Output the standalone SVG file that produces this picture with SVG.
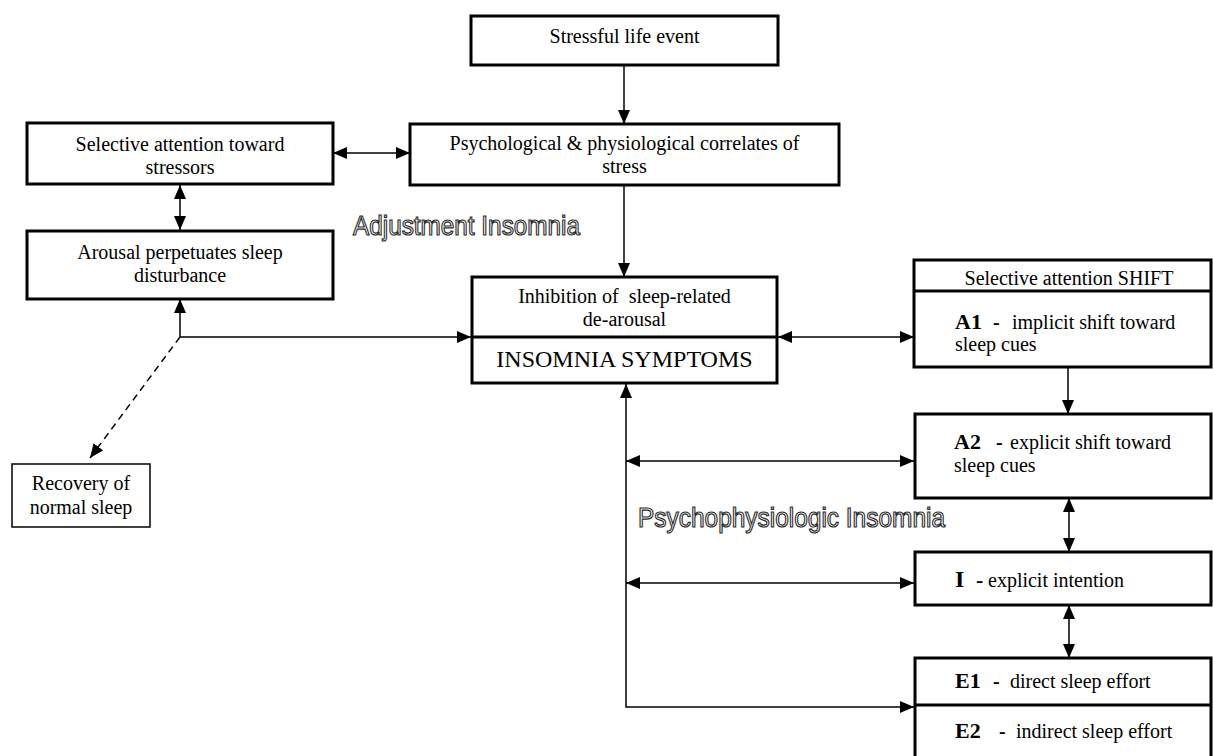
<svg xmlns="http://www.w3.org/2000/svg" width="1213" height="756" viewBox="0 0 1213 756">
<style>
.box{fill:#fff;stroke:#000;stroke-width:3}
.thin{fill:#fff;stroke:#000;stroke-width:1.5}
.t{font-family:"Liberation Serif","Times New Roman",serif;font-size:20px;fill:#000}
.c{text-anchor:middle}
.b{font-weight:bold;font-size:22px}
.ln{fill:none;stroke:#000;stroke-width:1.5}
.ol{font-family:"Liberation Sans",Arial,sans-serif;font-size:27px;fill:#fff;stroke:#2a2a2a;stroke-width:1.2}
.lbl{opacity:0.99}
</style>
<defs>
<marker id="ah" viewBox="0 0 14 12" refX="14" refY="6" markerWidth="14" markerHeight="12" markerUnits="userSpaceOnUse" orient="auto-start-reverse">
<path d="M0,0 L14,6 L0,12 Z" fill="#000"/>
</marker>
</defs>
<rect width="1213" height="756" fill="#fff"/>

<g id="connectors">
<line class="ln" x1="624" y1="65" x2="624" y2="124" marker-end="url(#ah)"/>
<line class="ln" x1="624" y1="185" x2="624" y2="277" marker-end="url(#ah)"/>
<line class="ln" x1="333" y1="153" x2="410" y2="153" marker-start="url(#ah)" marker-end="url(#ah)"/>
<line class="ln" x1="180" y1="185" x2="180" y2="230" marker-start="url(#ah)" marker-end="url(#ah)"/>
<polyline class="ln" points="180,299 180,337 471,337" marker-start="url(#ah)" marker-end="url(#ah)"/>
<line class="ln" x1="180" y1="337" x2="90" y2="458" stroke-dasharray="7,5" marker-end="url(#ah)"/>
<line class="ln" x1="778" y1="337" x2="914" y2="337" marker-start="url(#ah)" marker-end="url(#ah)"/>
<line class="ln" x1="1068" y1="367" x2="1068" y2="414" marker-end="url(#ah)"/>
<line class="ln" x1="1069" y1="498" x2="1069" y2="552" marker-start="url(#ah)" marker-end="url(#ah)"/>
<line class="ln" x1="1069" y1="605" x2="1069" y2="658" marker-start="url(#ah)" marker-end="url(#ah)"/>
<polyline class="ln" points="626,384 626,707 914,707" marker-start="url(#ah)" marker-end="url(#ah)"/>
<line class="ln" x1="626" y1="461" x2="914" y2="461" marker-start="url(#ah)" marker-end="url(#ah)"/>
<line class="ln" x1="626" y1="583" x2="914" y2="583" marker-start="url(#ah)" marker-end="url(#ah)"/>
</g>

<g id="stressful">
<rect class="box" x="471" y="16" width="307" height="49"/>
<text class="t c" x="624.5" y="43">Stressful life event</text>
</g>

<g id="psych">
<rect class="box" x="410" y="124" width="429" height="61"/>
<text class="t c" x="624.5" y="150">Psychological &amp; physiological correlates of</text>
<text class="t c" x="624.5" y="173">stress</text>
</g>

<g id="selective">
<rect class="box" x="27" y="123" width="306" height="61"/>
<text class="t c" x="180" y="151">Selective attention toward</text>
<text class="t c" x="180" y="174">stressors</text>
</g>

<g id="arousal">
<rect class="box" x="27" y="231" width="306" height="68"/>
<text class="t c" x="180" y="259">Arousal perpetuates sleep</text>
<text class="t c" x="180" y="282">disturbance</text>
</g>

<g id="adjustment-label" class="lbl">
<text class="ol" x="353" y="235" textLength="227" lengthAdjust="spacingAndGlyphs">Adjustment Insomnia</text>
</g>

<g id="inhibition">
<rect class="box" x="472" y="277" width="305" height="106"/>
<line class="box" x1="472" y1="337" x2="777" y2="337"/>
<text class="t c" x="624.5" y="303">Inhibition of&#160; sleep-related</text>
<text class="t c" x="624.5" y="326">de-arousal</text>
<text class="t c" x="624.5" y="367" style="font-size:24px">INSOMNIA SYMPTOMS</text>
</g>

<g id="recovery">
<rect class="thin" x="12" y="464" width="138" height="63"/>
<text class="t c" x="81" y="490">Recovery of</text>
<text class="t c" x="81" y="514">normal sleep</text>
</g>

<g id="shift-a1">
<rect class="box" x="914" y="260" width="297" height="107"/>
<line class="box" x1="914" y1="291" x2="1211" y2="291"/>
<text class="t c" x="1069" y="285">Selective attention SHIFT</text>
<text class="t" y="329"><tspan class="b" x="955">A1</tspan><tspan font-weight="bold" x="993">-</tspan><tspan x="1012">implicit shift toward</tspan></text>
<text class="t" x="955" y="351">sleep cues</text>
</g>

<g id="a2">
<rect class="box" x="915" y="414" width="296" height="84"/>
<text class="t" y="449"><tspan class="b" x="954">A2</tspan><tspan font-weight="bold" x="996">-</tspan><tspan x="1010">explicit shift toward</tspan></text>
<text class="t" x="954" y="472">sleep cues</text>
</g>

<g id="psychophysiologic-label" class="lbl">
<text class="ol" x="638" y="527" textLength="307" lengthAdjust="spacingAndGlyphs">Psychophysiologic Insomnia</text>
</g>

<g id="intention">
<rect class="box" x="915" y="552" width="296" height="53"/>
<text class="t" y="587"><tspan class="b" x="955" style="font-size:24px">I</tspan><tspan font-weight="bold" x="976" style="font-size:22px">-</tspan><tspan x="988">explicit intention</tspan></text>
</g>

<g id="effort">
<rect class="box" x="915" y="658" width="296" height="110"/>
<line class="box" x1="915" y1="705" x2="1211" y2="705"/>
<text class="t" y="688"><tspan class="b" x="955">E1</tspan><tspan font-weight="bold" x="993">-</tspan><tspan x="1010">direct sleep effort</tspan></text>
<text class="t" y="738"><tspan class="b" x="955">E2</tspan><tspan font-weight="bold" x="999">-</tspan><tspan x="1016">indirect sleep effort</tspan></text>
</g>
</svg>
